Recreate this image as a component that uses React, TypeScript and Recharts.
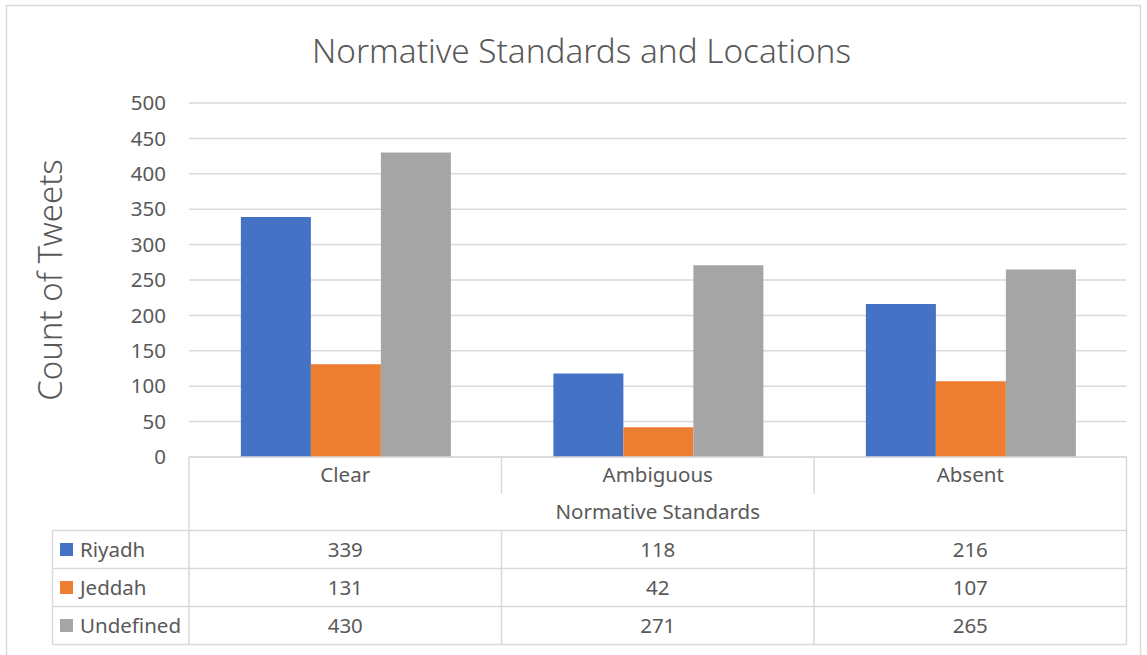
import React from 'react';
import { BarChart, Bar, XAxis, YAxis, CartesianGrid } from 'recharts';

const CATEGORIES = ['Clear', 'Ambiguous', 'Absent'];
const RIYADH = [339, 118, 216];
const JEDDAH = [131, 42, 107];
const UNDEFINED = [430, 271, 265];
const Y_TICKS = [0, 50, 100, 150, 200, 250, 300, 350, 400, 450, 500];

const SERIES = [
  { key: 'riyadh', name: 'Riyadh', color: '#4472C4', values: RIYADH },
  { key: 'jeddah', name: 'Jeddah', color: '#ED7D31', values: JEDDAH },
  { key: 'undefined', name: 'Undefined', color: '#A5A5A5', values: UNDEFINED },
];

const data = CATEGORIES.map((name, i) => {
  const row: Record<string, string | number> = { name };
  SERIES.forEach(s => { row[s.key] = s.values[i]; });
  return row;
});

const W = 1147;
const H = 655;
const FONT = '"Noto Sans", "Open Sans", sans-serif';
const TEXT = '#595959';
const LINE = '#D9D9D9';
const FS = 20.5;

// table geometry (below the plot)
const PLOT_LEFT = 189;
const PLOT_RIGHT = 1126.5;
const PLOT_TOP = 103;
const PLOT_BOTTOM = 457;
const HEADER_H = 37;
const SUB_H = 73.5;
const ROW_H = 38;
const LEG_LEFT = 52.5;

// draws category header + the column of values for one category
const TableTick = (props: any) => {
  const { x, y, payload, index, width } = props;
  const band = width / CATEGORIES.length;
  const right = x + band / 2;
  return (
    <g>
      <text x={x} y={y + 17} textAnchor="middle" dominantBaseline="central"
        fill={TEXT} fontSize={FS} fontFamily={FONT}>{payload.value}</text>
      {SERIES.map((s, r) => (
        <text key={s.key} x={x} y={y + SUB_H + ROW_H * r + ROW_H / 2 - 1} textAnchor="middle"
          dominantBaseline="central" fill={TEXT} fontSize={FS} fontFamily={FONT}>
          {s.values[index]}
        </text>
      ))}
      {index < CATEGORIES.length - 1 && (
        <>
          <line x1={right} x2={right} y1={y} y2={y + HEADER_H} stroke={LINE} strokeWidth={1.5} />
          <line x1={right} x2={right} y1={y + SUB_H} y2={y + SUB_H + ROW_H * 3} stroke={LINE} strokeWidth={1.5} />
        </>
      )}
    </g>
  );
};

export default function App() {
  const tableBottom = PLOT_BOTTOM + SUB_H + ROW_H * 3;
  return (
    <div style={{ position: 'absolute', left: 0, top: 0, width: W, height: H, background: '#fff' }}>
      <BarChart width={W} height={H} data={data}
        margin={{ top: PLOT_TOP, right: W - PLOT_RIGHT, left: 0, bottom: 0 }}
        barCategoryGap="16.6%" barGap={0}>
        <CartesianGrid vertical={false} stroke={LINE} strokeWidth={1.5} />
        <XAxis dataKey="name" height={H - PLOT_BOTTOM} axisLine={false} tickLine={false}
          tickSize={0} tickMargin={0} interval={0} tick={<TableTick />} />
        <YAxis width={PLOT_LEFT} domain={[0, 500]} ticks={Y_TICKS} interval={0}
          axisLine={false} tickLine={false} tickSize={0} tickMargin={23}
          tick={{ fill: TEXT, fontSize: FS, fontFamily: FONT }}
          label={{ value: 'Count of Tweets', angle: -90, position: 'insideLeft', offset: 50,
            style: { textAnchor: 'middle', fill: TEXT, fontSize: 33, fontWeight: 300, fontFamily: FONT } }} />
        {SERIES.map(s => (
          <Bar key={s.key} dataKey={s.key} name={s.name} fill={s.color} isAnimationActive={false} />
        ))}
      </BarChart>
      <svg width={W} height={H} style={{ position: 'absolute', left: 0, top: 0, pointerEvents: 'none' }}>
        <rect x={6.5} y={5.5} width={1134} height={670} fill="none" stroke={LINE} strokeWidth={1.5} />
        <text x={581.5} y={50} textAnchor="middle" dominantBaseline="central"
          fill={TEXT} fontSize={33.3} fontWeight={300} fontFamily={FONT}>Normative Standards and Locations</text>
        <line x1={PLOT_LEFT} x2={PLOT_RIGHT} y1={PLOT_BOTTOM} y2={PLOT_BOTTOM} stroke={LINE} strokeWidth={1.5} />
        <line x1={PLOT_LEFT} x2={PLOT_LEFT} y1={PLOT_BOTTOM} y2={tableBottom} stroke={LINE} strokeWidth={1.5} />
        <line x1={PLOT_RIGHT} x2={PLOT_RIGHT} y1={PLOT_BOTTOM} y2={tableBottom} stroke={LINE} strokeWidth={1.5} />
        <line x1={LEG_LEFT} x2={LEG_LEFT} y1={PLOT_BOTTOM + SUB_H} y2={tableBottom} stroke={LINE} strokeWidth={1.5} />
        {[0, 1, 2, 3].map(r => (
          <line key={r} x1={LEG_LEFT} x2={PLOT_RIGHT} y1={PLOT_BOTTOM + SUB_H + ROW_H * r}
            y2={PLOT_BOTTOM + SUB_H + ROW_H * r} stroke={LINE} strokeWidth={1.5} />
        ))}
        <text x={(PLOT_LEFT + PLOT_RIGHT) / 2} y={PLOT_BOTTOM + 54} textAnchor="middle" dominantBaseline="central"
          fill={TEXT} fontSize={FS} fontFamily={FONT}>Normative Standards</text>
        {SERIES.map((s, r) => {
          const cy = PLOT_BOTTOM + SUB_H + ROW_H * r + ROW_H / 2;
          return (
            <g key={s.key}>
              <rect x={60} y={cy - 6.5} width={13} height={13} fill={s.color} />
              <text x={80} y={cy - 1} dominantBaseline="central" fill={TEXT} fontSize={FS} fontFamily={FONT}>{s.name}</text>
            </g>
          );
        })}
      </svg>
    </div>
  );
}
